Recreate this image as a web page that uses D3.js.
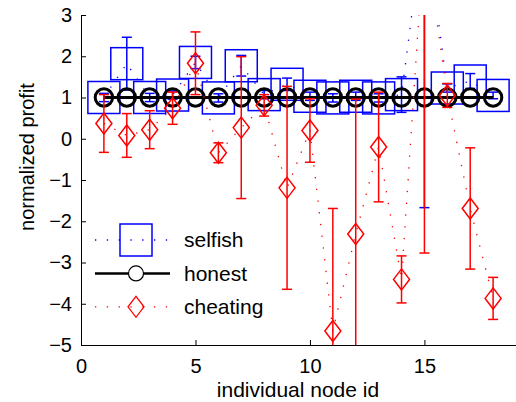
<!DOCTYPE html>
<html>
<head>
<meta charset="utf-8">
<script src="https://cdn.jsdelivr.net/npm/d3@7"></script>
<style>
  body { margin: 0; background: #fff; }
  svg { display: block; font-family: "Liberation Sans", Arial, sans-serif; }
</style>
</head>
<body>
<svg id="chart"></svg>
<script>
// Data
const nodes = d3.range(1, 19);
const selfish    = [1.00, 1.82, 1.00, 1.06, 1.85, 0.99, 1.77, 1.07, 1.32, 1.03, 0.99, 1.03, 0.99, 1.07, 5.40, 1.23, 1.40, 1.05];
const selfishErr = [0.10, 0.64, 0.10, 0.10, 0.15, 0.10, 0.25, 0.10, 0.15, 0.10, 0.10, 0.10, 0.10, 0.43, 7.07, 0.10, 0.18, 0.08];
const honest     = nodes.map(() => 1);
const cheating    = [0.37, 0.08, 0.22, 0.74, 1.83, -0.34, 0.27, 0.81, -1.19, 0.20, -4.66, -2.31, -0.20, -3.41, 5.00, 1.05, -1.69, -3.87];
const cheatingErr = [0.70, 0.53, 0.46, 0.39, 0.76, 0.24, 1.72, 0.26, 2.46, 0.77, 2.97, 3.27, 1.33, 0.57, 7.77, 0.29, 1.47, 0.51];
const xTicks = [0, 5, 10, 15];
const yTicks = d3.range(-5, 4);
const seriesNames = ["selfish", "honest", "cheating"];

// Set up dimensions
const width = 516, height = 402;
const plot = {left: 81, right: 516, top: 15, bottom: 345};

const svg = d3.select("#chart")
    .attr("width", width)
    .attr("height", height);

const x = d3.scaleLinear().domain([0, 19]).range([plot.left, plot.right]);
const y = d3.scaleLinear().domain([-5, 3]).range([plot.bottom, plot.top]);

svg.append("defs").append("clipPath")
    .attr("id", "clip")
    .append("rect")
    .attr("x", plot.left)
    .attr("y", plot.top)
    .attr("width", plot.right - plot.left)
    .attr("height", plot.bottom - plot.top);

const fontSize = 20;
const minus = s => String(s).replace("-", "\u2212");

// Axes (MATLAB style, ticks inward)
const xAxis = svg.append("g")
    .attr("transform", `translate(0,${plot.bottom})`)
    .call(d3.axisBottom(x).tickValues(xTicks).tickSizeInner(-5).tickSizeOuter(0).tickPadding(14));

const yAxis = svg.append("g")
    .attr("transform", `translate(${plot.left},0)`)
    .call(d3.axisLeft(y).tickValues(yTicks).tickSizeInner(-5).tickSizeOuter(0).tickPadding(9).tickFormat(minus));

[xAxis, yAxis].forEach(a => {
    a.selectAll("text").attr("font-size", fontSize).attr("fill", "#000")
        .attr("font-family", "\"Liberation Sans\", Arial, sans-serif");
    a.selectAll("line, path").attr("stroke", "#000");
});

// Plot layers
const layer = svg.append("g").attr("clip-path", "url(#clip)");

const line = vals => d3.line().x((d, i) => x(nodes[i])).y(d => y(d))(vals);
const dotted = "1.3,10.5";

function errorBars(g, vals, errs, color) {
    const eb = g.selectAll(null)
        .data(vals.map((v, i) => ({n: nodes[i], v: v, e: errs[i]})))
        .enter().append("g")
        .attr("stroke", color)
        .attr("stroke-width", 1.5)
        .attr("fill", "none");
    eb.append("line")
        .attr("x1", d => x(d.n)).attr("x2", d => x(d.n))
        .attr("y1", d => y(d.v - d.e)).attr("y2", d => y(d.v + d.e));
    eb.append("line")
        .attr("x1", d => x(d.n) - 5).attr("x2", d => x(d.n) + 5)
        .attr("y1", d => y(d.v - d.e)).attr("y2", d => y(d.v - d.e));
    eb.append("line")
        .attr("x1", d => x(d.n) - 5).attr("x2", d => x(d.n) + 5)
        .attr("y1", d => y(d.v + d.e)).attr("y2", d => y(d.v + d.e));
}

const diamond = (cx, cy) => `M${cx},${cy - 10.5}L${cx + 8},${cy}L${cx},${cy + 10.5}L${cx - 8},${cy}Z`;

// selfish
layer.append("path")
    .attr("d", line(selfish))
    .attr("fill", "none").attr("stroke", "#0000ff")
    .attr("stroke-width", 1.3).attr("stroke-dasharray", dotted);
errorBars(layer.append("g"), selfish, selfishErr, "#0000ff");
layer.append("g").selectAll("rect")
    .data(selfish)
    .enter().append("rect")
    .attr("x", (d, i) => x(nodes[i]) - 16)
    .attr("y", d => y(d) - 16)
    .attr("width", 32).attr("height", 32)
    .attr("fill", "none").attr("stroke", "#0000ff").attr("stroke-width", 1.5);

// honest
layer.append("path")
    .attr("d", line(honest))
    .attr("fill", "none").attr("stroke", "#000").attr("stroke-width", 3);
layer.append("g").selectAll("circle")
    .data(honest)
    .enter().append("circle")
    .attr("cx", (d, i) => x(nodes[i]))
    .attr("cy", d => y(d))
    .attr("r", 8.7)
    .attr("fill", "none").attr("stroke", "#000").attr("stroke-width", 3);

// cheating
layer.append("path")
    .attr("d", line(cheating))
    .attr("fill", "none").attr("stroke", "#ff0000")
    .attr("stroke-width", 1.3).attr("stroke-dasharray", dotted);
errorBars(layer.append("g"), cheating, cheatingErr, "#ff0000");
layer.append("g").selectAll("path")
    .data(cheating)
    .enter().append("path")
    .attr("d", (d, i) => diamond(x(nodes[i]), y(d)))
    .attr("fill", "none").attr("stroke", "#ff0000").attr("stroke-width", 1.5);

// Axis labels
svg.append("text")
    .attr("text-anchor", "middle")
    .attr("x", 298).attr("y", 397)
    .attr("font-size", 21)
    .text("individual node id");

svg.append("text")
    .attr("text-anchor", "middle")
    .attr("transform", "translate(34,157) rotate(-90)")
    .attr("font-size", fontSize)
    .text("normalized profit");

// Legend
const legend = svg.selectAll(".legend")
    .data(seriesNames)
    .enter().append("g")
    .attr("class", "legend")
    .attr("transform", (d, i) => `translate(0,${240 + i * 33.4})`);

legend.append("line")
    .attr("x1", 95).attr("x2", 170).attr("y1", 0).attr("y2", 0)
    .attr("stroke", d => d === "selfish" ? "#0000ff" : d === "honest" ? "#000" : "#ff0000")
    .attr("stroke-width", d => d === "honest" ? 2.5 : 1.3)
    .attr("stroke-dasharray", d => d === "honest" ? null : "1.3,10.5");

legend.filter(d => d === "selfish").append("rect")
    .attr("x", 120).attr("y", -16).attr("width", 32).attr("height", 32)
    .attr("fill", "none").attr("stroke", "#0000ff").attr("stroke-width", 1.5);
legend.filter(d => d === "honest").append("circle")
    .attr("cx", 136).attr("cy", 0).attr("r", 7.5)
    .attr("fill", "#fff").attr("stroke", "#000").attr("stroke-width", 1.2);
legend.filter(d => d === "cheating").append("path")
    .attr("d", diamond(136, 0))
    .attr("fill", "none").attr("stroke", "#ff0000").attr("stroke-width", 1.3);

legend.append("text")
    .attr("x", 184).attr("y", 0).attr("dy", "0.35em")
    .attr("font-size", 21)
    .text(d => d);
</script>
</body>
</html>
